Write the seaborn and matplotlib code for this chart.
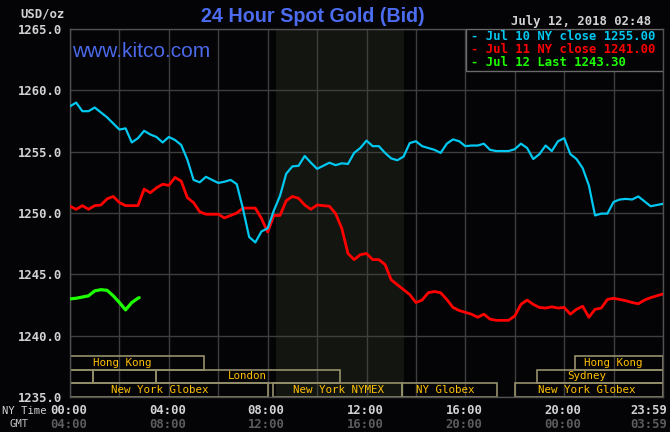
import matplotlib
matplotlib.use('Agg')
import matplotlib.pyplot as plt
import matplotlib.transforms as mtransforms
from matplotlib.patches import Rectangle
import seaborn as sns
import numpy as np
import pandas as pd

# NY time in hours, one reading every 15 minutes
HOURS = np.arange(0, 24.01, 0.25)

JUL10 = [1258.7, 1259.0, 1258.3, 1258.3, 1258.6, 1258.2, 1257.8, 1257.3, 1256.8, 1256.9,
         1255.75, 1256.1, 1256.7, 1256.4, 1256.2, 1255.75, 1256.2, 1255.95, 1255.55, 1254.35,
         1252.7, 1252.5, 1252.95, 1252.7, 1252.45, 1252.55, 1252.7, 1252.35, 1250.35, 1248.05,
         1247.6, 1248.5, 1248.75, 1250.2, 1251.4, 1253.2, 1253.8, 1253.85, 1254.65, 1254.1,
         1253.6, 1253.85, 1254.1, 1253.9, 1254.05, 1254.0, 1254.9, 1255.3, 1255.9, 1255.45,
         1255.45, 1254.9, 1254.45, 1254.3, 1254.6, 1255.7, 1255.85, 1255.45, 1255.3, 1255.15,
         1254.9, 1255.65, 1256.0, 1255.85, 1255.45, 1255.5, 1255.5, 1255.65, 1255.15, 1255.05,
         1255.05, 1255.05, 1255.2, 1255.65, 1255.3, 1254.4, 1254.8, 1255.5, 1255.05, 1255.85,
         1256.1, 1254.8, 1254.4, 1253.65, 1252.25, 1249.8, 1249.95, 1249.95, 1250.9, 1251.1,
         1251.15, 1251.1, 1251.35, 1250.95, 1250.55, 1250.65, 1250.75]

JUL11 = [1250.55, 1250.3, 1250.6, 1250.3, 1250.6, 1250.65, 1251.15, 1251.35, 1250.85, 1250.6,
         1250.6, 1250.6, 1251.95, 1251.65, 1252.05, 1252.35, 1252.25, 1252.9, 1252.6, 1251.25,
         1250.85, 1250.1, 1249.9, 1249.9, 1249.9, 1249.6, 1249.8, 1250.0, 1250.4, 1250.4,
         1250.4, 1249.55, 1248.45, 1249.8, 1249.8, 1251.0, 1251.35, 1251.2, 1250.65, 1250.3,
         1250.65, 1250.6, 1250.55, 1249.95, 1248.75, 1246.7, 1246.2, 1246.6, 1246.7, 1246.2,
         1246.2, 1245.8, 1244.55, 1244.15, 1243.75, 1243.35, 1242.7, 1242.9, 1243.5, 1243.6,
         1243.5, 1242.95, 1242.3, 1242.05, 1241.9, 1241.75, 1241.5, 1241.75, 1241.35, 1241.25,
         1241.25, 1241.25, 1241.6, 1242.55, 1242.9, 1242.55, 1242.3, 1242.25, 1242.35, 1242.25,
         1242.3, 1241.75, 1242.15, 1242.4, 1241.5, 1242.15, 1242.25, 1242.95, 1243.05, 1242.95,
         1242.85, 1242.7, 1242.6, 1242.9, 1243.1, 1243.25, 1243.4]

JUL12_HOURS = [0, 0.25, 0.5, 0.75, 1.0, 1.25, 1.5, 1.75, 2.0, 2.25, 2.5, 2.75, 2.8]
JUL12 = [1243.0, 1243.05, 1243.15, 1243.25, 1243.65, 1243.75, 1243.7, 1243.25, 1242.7,
         1242.1, 1242.7, 1243.05, 1243.1]

LEGEND_TEXT = ['- Jul 10 NY close 1255.00', '- Jul 11 NY close 1241.00', '- Jul 12 Last 1243.30']
NY_LABELS = ['00:00', '04:00', '08:00', '12:00', '16:00', '20:00', '23:59']
GMT_LABELS = ['04:00', '08:00', '12:00', '16:00', '20:00', '00:00', '03:59']
LABEL_POS = [0, 4, 8, 12, 16, 20, 24]

# (start hour, end hour, row, label, label hour)
SESSIONS = [
    (0, 5.42, 0, 'Hong Kong', 2.1),
    (20.44, 24, 0, 'Hong Kong', 22.0),
    (0, 0.93, 1, '', 0),
    (0.93, 3.47, 1, '', 0),
    (3.47, 10.93, 1, 'London', 7.16),
    (18.9, 24, 1, 'Sydney', 20.92),
    (0, 8.03, 2, 'New York Globex', 3.64),
    (8.22, 13.45, 2, 'New York NYMEX', 10.85),
    (13.45, 17.29, 2, 'NY Globex', 15.17),
    (18.0, 24, 2, 'New York Globex', 20.92),
]

BG = '#040306'
CYAN = '#00c8f0'
RED = '#ff0000'
GREEN = '#1eff00'
MONO = 'DejaVu Sans Mono'

sns.set_style("dark", {'axes.facecolor': BG, 'figure.facecolor': BG})
plt.rcParams['font.family'] = [MONO]

df10 = pd.DataFrame({'hour': HOURS, 'price': JUL10})
df11 = pd.DataFrame({'hour': HOURS, 'price': JUL11})
df12 = pd.DataFrame({'hour': JUL12_HOURS, 'price': JUL12})

fig = plt.figure(figsize=(6.7, 4.32), dpi=100)
fig.patch.set_facecolor(BG)
ax = fig.add_axes([70 / 670, 35 / 432, 593 / 670, 368 / 432])
ax.set_facecolor(BG)

# NYMEX shaded period
ax.axvspan(8.33, 13.5, color='#131511', zorder=0, lw=0)

ax.set_xlim(0, 24)
ax.set_ylim(1235, 1265)
ax.set_xticks(np.arange(0, 25, 2))
ax.set_yticks(np.arange(1235, 1266, 5))
ax.grid(True, color='#3e3e3e', lw=1.0)
ax.set_axisbelow(True)
ax.set_xticklabels([])
ax.set_yticklabels([f'{v:.1f}' for v in np.arange(1235, 1266, 5)],
                   color='#d2d2d2', fontsize=8.8, fontweight='bold', family=MONO)
ax.tick_params(axis='y', length=0, pad=6)
ax.tick_params(axis='x', length=0)
for s in ax.spines.values():
    s.set_color('#505050')
    s.set_linewidth(1.0)

sns.lineplot(data=df10, x='hour', y='price', color=CYAN, lw=1.6, ax=ax, zorder=4)
sns.lineplot(data=df11, x='hour', y='price', color=RED, lw=2.0, ax=ax, zorder=3)
sns.lineplot(data=df12, x='hour', y='price', color=GREEN, lw=2.3, ax=ax, zorder=5)
ax.set_xlabel('')
ax.set_ylabel('')

# trading session boxes
trans = mtransforms.blended_transform_factory(ax.transData, ax.transAxes)
row_h = 0.0372
for start, end, row, label, lx in SESSIONS:
    y0 = (2 - row) * row_h
    ax.add_patch(Rectangle((start, y0), end - start, row_h, transform=trans,
                           fill=False, ec='#95906a', lw=1.2, zorder=2))
    if label:
        ax.text(lx, y0 + row_h / 2, label, transform=trans, ha='center', va='center',
                color='#ffc000', fontsize=7.8, family=MONO, zorder=6)

# legend panel
ax.add_patch(Rectangle((0.668, 0.886), 0.332, 0.114, transform=ax.transAxes,
                       fc=BG, ec='#6a6a6a', lw=1.0, zorder=6))
for i, (txt, c) in enumerate(zip(LEGEND_TEXT, [CYAN, RED, GREEN])):
    fig.text(471 / 670, 1 - (36 + i * 13.5) / 432, txt, color=c, fontsize=8.8,
             fontweight='bold', family=MONO, va='center', ha='left', zorder=7)

# header texts
fig.text(313 / 670, 1 - 17 / 432, '24 Hour Spot Gold (Bid)', color='#4c6cf0',
         fontsize=14.2, fontweight='bold', family='Liberation Sans', ha='center', va='center')
ax.text(0.003, 0.94, 'www.kitco.com', transform=ax.transAxes, color='#4a68e8',
        fontsize=15, family='Liberation Sans', ha='left', va='center', zorder=7)
fig.text(20 / 670, 1 - 14 / 432, 'USD/oz', color='#d2d2d2', fontsize=8.8,
         fontweight='bold', family=MONO, ha='left', va='center')
fig.text(651 / 670, 1 - 21 / 432, 'July 12, 2018 02:48', color='#d2d2d2', fontsize=8.8,
         fontweight='bold', family=MONO, ha='right', va='center')

# time axis labels
fig.text(2 / 670, 1 - 411 / 432, 'NY Time', color='#d2d2d2', fontsize=7.6,
         family=MONO, ha='left', va='center')
fig.text(10 / 670, 1 - 424 / 432, 'GMT', color='#c0c0c0', fontsize=7.6,
         family=MONO, ha='left', va='center')
for pos, ny, gmt in zip(LABEL_POS, NY_LABELS, GMT_LABELS):
    xpix = 70 + pos * 593 / 24 - 1.5
    ha = 'center'
    if pos == 24:
        xpix, ha = 667, 'right'
    fig.text(xpix / 670, 1 - 410 / 432, ny, color='#d2d2d2', fontsize=8.8,
             fontweight='bold', family=MONO, ha=ha, va='center')
    fig.text(xpix / 670, 1 - 424 / 432, gmt, color='#5c5c5c', fontsize=8.8,
             fontweight='bold', family=MONO, ha=ha, va='center')

fig.savefig('out.png', dpi=100, facecolor=BG)
